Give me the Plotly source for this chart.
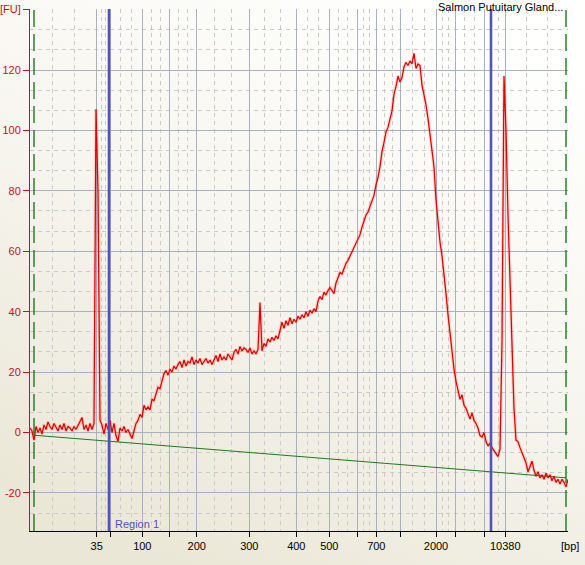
import base64
import numpy as np
import plotly.graph_objects as go

# ---------------- data ----------------
ladder_bp = [35, 50, 100, 150, 200, 300, 400, 500, 600, 700, 1000, 2000, 3000, 7000, 10380]
ladder_time = [33.34, 36.0, 42.46, 47.86, 53.34, 63.86, 73.26, 79.86, 85.46, 89.26,
               94.14, 101.2, 105.06, 110.86, 115.06]
labeled_bp = [35, 100, 200, 300, 400, 500, 700, 2000, 10380]

time_start = 20.0   # s
time_step = 0.4     # s
fu = [
    1.5, 0.5, -2.5, 2.0, 0.0, 1.5, -0.5, 2.5, 1.0, 3.5,
    2.0, 1.0, 3.0, 1.5, 0.5, 2.5, 1.0, 3.0, 0.5, 2.0,
    1.5, 0.5, 2.0, 1.0, 2.5, 4.0, 5.0, 1.0, 2.5, 0.5,
    3.0, 1.0, 3.0, 107.0, 80.0, 4.0, 2.5, -0.5, 3.0, 1.0,
    4.0, 0.0, 3.0, -1.0, -3.0, 1.5, 0.5, 2.0, 0.0, 1.0,
    -0.5, -2.0, 0.5, 3.0, 4.0, 6.0, 5.0, 9.0, 7.5, 8.5,
    7.5, 11.0, 10.5, 12.5, 15.0, 14.5, 17.0, 19.5, 20.5, 19.0,
    21.0, 20.0, 22.0, 21.0, 22.5, 23.5, 21.5, 24.0, 22.0, 23.5,
    23.0, 25.0, 22.5, 24.0, 23.0, 24.5, 22.5, 23.5, 24.5, 23.0,
    24.0, 22.5, 24.0, 25.5, 23.5, 26.0, 24.0, 25.0, 24.0, 26.0,
    25.0, 24.0, 26.5, 27.5, 26.0, 28.5, 27.0, 28.0, 27.5, 26.5,
    28.0, 26.0, 27.0, 26.0, 27.5, 43.0, 27.0, 29.5, 28.5, 31.0,
    30.0, 31.5, 30.5, 32.0, 31.0, 34.0, 36.5, 34.5, 37.0, 35.5,
    38.0, 36.0, 37.5, 36.5, 38.5, 37.5, 39.0, 38.0, 40.0, 38.5,
    40.5, 39.5, 41.0, 40.0, 43.5, 45.0, 44.0, 46.5, 45.5, 47.0,
    48.0, 47.0, 46.0, 49.5, 51.0, 53.0, 52.5, 54.5, 56.0, 57.0,
    58.5, 59.5, 61.0, 62.5, 64.0, 65.5, 68.0, 70.0, 72.0, 73.0,
    75.0, 76.5, 78.5, 82.0, 84.5, 88.0, 93.0, 96.0, 99.5, 101.0,
    104.0, 106.5, 112.0, 114.5, 118.0, 116.0, 117.5, 121.0, 122.5, 121.5,
    123.0, 122.0, 125.5, 120.5, 122.0, 121.5, 115.0, 112.0, 108.5, 104.0,
    99.0, 94.0, 88.0, 77.0, 69.0, 63.0, 58.5, 53.0, 46.0, 39.0,
    33.0, 26.0, 21.0, 17.0, 13.5, 11.0, 12.5, 9.0, 8.0, 6.0,
    4.5, 6.5, 4.0, 3.0, 1.5, -1.0, -1.5, 0.0, -3.0, -4.5,
    -3.5, -5.0, -6.0, -7.0, -8.0, -5.5, 30.0, 118.0, 100.0, 72.0,
    48.0, 30.0, 8.0, -2.5, -3.0, -5.0, -6.5, -8.5, -10.0, -13.0,
    -11.0, -9.5, -12.5, -14.5, -13.0, -15.0, -14.0, -15.5, -13.5, -15.0,
    -14.0, -16.0, -14.5, -16.5, -15.5, -17.0, -15.5, -16.5, -18.0, -15.5,
]
time_s = time_start + time_step * np.arange(len(fu))

baseline_time = [20.8, 127.2]
baseline_fu = [-0.9, -15.0]
marker_time = [20.8, 127.2]          # lower / upper marker limits
region_time = [35.8, 112.2]          # Region 1 boundaries
region_name = "Region 1"
sample_name = "Salmon Putuitary Gland..."

y_ticks = [-20, 0, 20, 40, 60, 80, 100, 120, 140]
y_ticktext = ["-20", "0", "20", "40", "60", "80", "100", "120", "[FU]"]

# ---------------- layout helpers ----------------
X_RANGE = [20.0, 127.6]
Y_RANGE = [-32.6, 140.2]
RED_AX = "#C41414"
GRID_MAJOR = "#A9B0BF"
GRID_MINOR = "#CACACA"
GREEN = "#1F781F"
BLUE = "#5252BE"
FONT = "Liberation Sans, Arial, sans-serif"

ticktext_x = [str(b) if b in labeled_bp else "" for b in ladder_bp]
edges = [X_RANGE[0]] + ladder_time + [X_RANGE[1]]
minor_x = []
for a, b in zip(edges[:-1], edges[1:]):
    minor_x += [a + (b - a) / 3.0, a + 2.0 * (b - a) / 3.0]

svg = ('<svg xmlns="http://www.w3.org/2000/svg" width="585" height="565">'
       '<defs><linearGradient id="g" x1="0.75" y1="0" x2="0.25" y2="1">'
       '<stop offset="0" stop-color="#FFFFFE"/><stop offset="0.45" stop-color="#F7F6F0"/>'
       '<stop offset="1" stop-color="#EAE7D6"/></linearGradient></defs>'
       '<rect width="585" height="565" fill="url(#g)"/></svg>')
bg_src = "data:image/svg+xml;base64," + base64.b64encode(svg.encode()).decode()

fig = go.Figure()

# glow under the trace
fig.add_trace(go.Scatter(x=time_s, y=fu, mode="lines",
                         line=dict(color="rgba(255,60,60,0.18)", width=3.5),
                         hoverinfo="skip", showlegend=False))
# baseline
fig.add_trace(go.Scatter(x=baseline_time, y=baseline_fu, mode="lines",
                         line=dict(color=GREEN, width=1), showlegend=False))
# electropherogram
fig.add_trace(go.Scatter(x=time_s, y=fu, mode="lines",
                         line=dict(color="#E00000", width=1.25), showlegend=False))

shapes = []
for t in marker_time:
    shapes.append(dict(type="line", xref="x", yref="paper", x0=t, x1=t, y0=0, y1=1,
                       line=dict(color=GREEN, width=1.4, dash="17px,7px")))
for t in region_time:
    shapes.append(dict(type="line", xref="x", yref="paper", x0=t, x1=t, y0=0, y1=1,
                       line=dict(color=BLUE, width=2.6)))

fig.update_layout(
    width=585, height=565,
    margin=dict(l=30, r=17, t=9, b=34, pad=0, autoexpand=False),
    paper_bgcolor="#ECE9D8",
    plot_bgcolor="rgba(0,0,0,0)",
    font=dict(family=FONT, size=11, color="black"),
    showlegend=False,
    hovermode=False,
    shapes=shapes,
    images=[dict(source=bg_src, xref="paper", yref="paper",
                 x=-30 / 538, y=1 + 9 / 522, sizex=585 / 538, sizey=565 / 522,
                 xanchor="left", yanchor="top", sizing="stretch", layer="below")],
    xaxis=dict(
        automargin=False,
        range=X_RANGE, tickmode="array", tickvals=ladder_time, ticktext=ticktext_x,
        ticks="outside", ticklen=5, tickcolor="black", tickwidth=1,
        showline=True, linecolor="black", linewidth=1,
        showgrid=True, gridcolor=GRID_MAJOR, gridwidth=1,
        zeroline=False, tickfont=dict(family=FONT, size=11, color="black"),
        minor=dict(tickmode="array", tickvals=minor_x, showgrid=True,
                   gridcolor=GRID_MINOR, griddash="4px,4px", gridwidth=1, ticks=""),
    ),
    yaxis=dict(
        automargin=False,
        range=Y_RANGE, tickmode="array", tickvals=y_ticks, ticktext=y_ticktext,
        ticks="outside", ticklen=6, tickcolor=RED_AX, tickwidth=1,
        showline=True, linecolor=RED_AX, linewidth=1,
        showgrid=True, gridcolor=GRID_MAJOR, gridwidth=1,
        zeroline=False, tickfont=dict(family=FONT, size=11, color=RED_AX),
        minor=dict(tickmode="linear", tick0=0, dtick=20 / 3, showgrid=True,
                   gridcolor=GRID_MINOR, griddash="4px,4px", gridwidth=1, ticks=""),
    ),
    annotations=[
        dict(text=region_name, xref="x", yref="paper", x=region_time[0] + 0.7, y=0.0,
             xanchor="left", yanchor="bottom", yshift=-1, showarrow=False,
             font=dict(family=FONT, size=11, color=BLUE)),
        dict(text=sample_name, xref="paper", yref="paper", x=(565 - 30) / 538,
             y=1 + 2.5 / 522, xanchor="right", yanchor="middle", showarrow=False,
             font=dict(family=FONT, size=11, color="black")),
        dict(text="[bp]", xref="paper", yref="paper", x=1 + 1.5 / 538, y=-15 / 522,
             xanchor="center", yanchor="middle", showarrow=False,
             font=dict(family=FONT, size=11, color="black")),
    ],
)

fig.write_html("out.html",
               config={"displayModeBar": False, "staticPlot": True},
               post_script="document.body.style.margin='0px';"
                           "document.body.style.overflow='hidden';")
